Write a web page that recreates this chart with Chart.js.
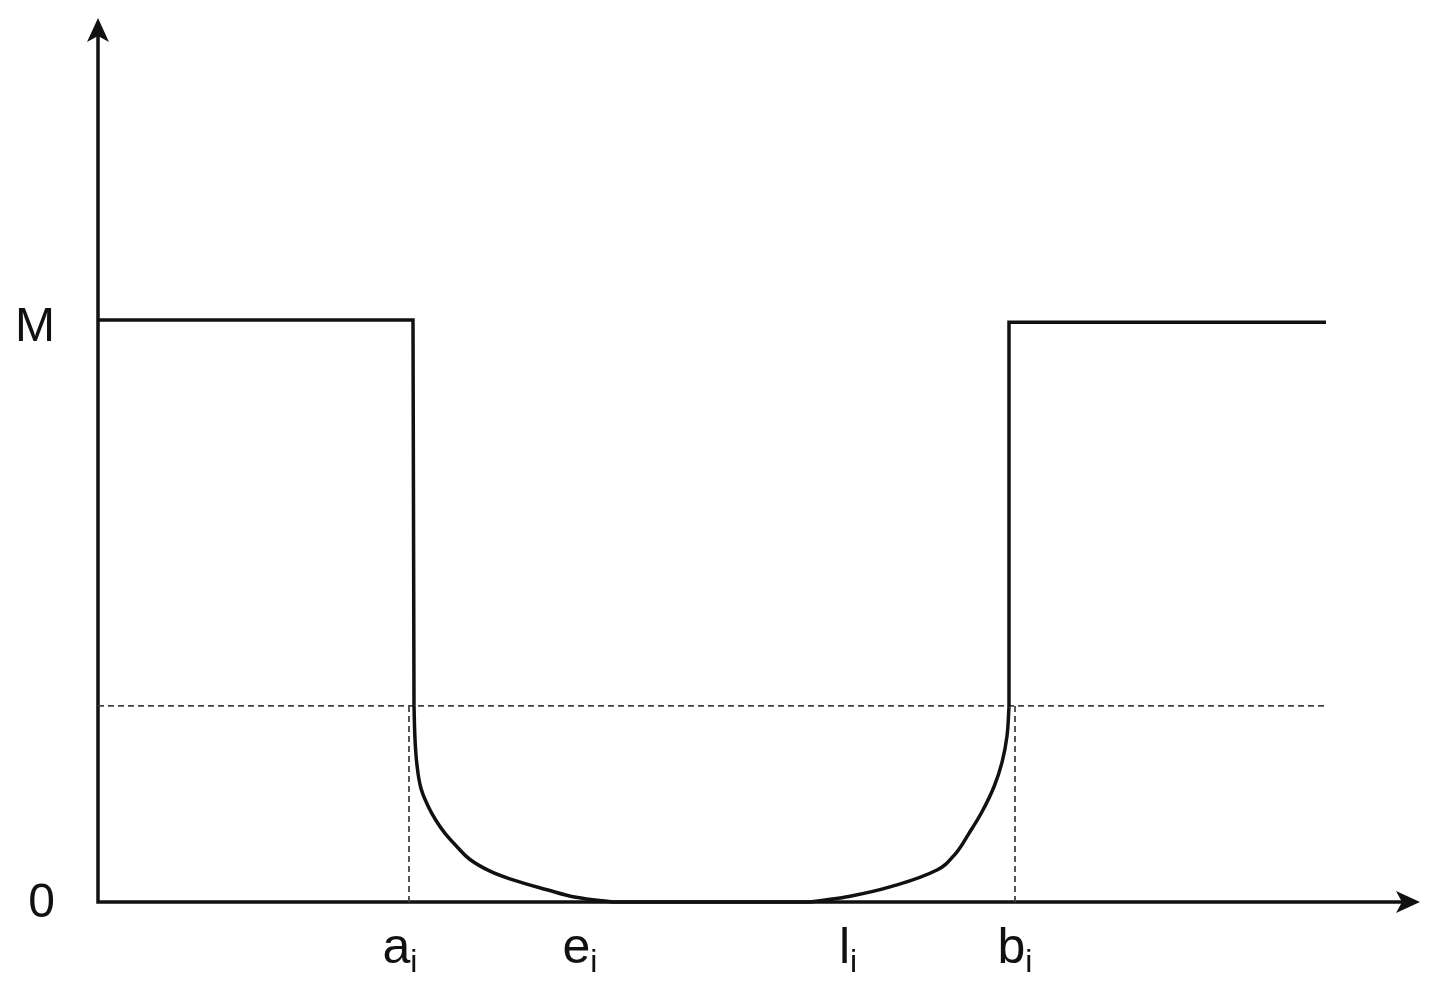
<!DOCTYPE html>
<html>
<head>
<meta charset="utf-8">
<script src="https://cdn.jsdelivr.net/npm/chart.js@4"></script>
<style>
  html, body { margin: 0; padding: 0; background: #fff; }
  canvas { display: block; }
</style>
</head>
<body>
<canvas id="c" width="1437" height="1003"></canvas>
<script>
// ---- data (x in abstract time units, y in units where M = 100) ----
const M_LEVEL = 100;
const THRESHOLD = 33.7;
const X_MAX = 1322;
const Y_MAX = 151.9;

const leftStep = [[0, 100], [315, 100], [316, 33.7]];
const leftCurve = [[316, 33.7], [317, 28.0], [319, 23.5], [323, 19.5], [330, 16.5], [338, 14.0], [347, 11.8],
                   [359, 9.5], [372, 7.3], [392, 5.3], [415, 3.8], [449, 2.1], [478, 0.8], [515, 0]];
const floorLine = [[515, 0], [712, 0]];
const rightCurve = [[712, 0], [749, 0.9], [792, 2.6], [839, 5.5], [857, 8.2], [871, 11.8],
                    [884, 15.5], [896, 19.8], [904, 24.0], [909, 28.5], [911, 33.5]];
const rightStep = [[911, 33.5], [911, 99.6], [1228, 99.6]];
const thresholdLine = [[0, THRESHOLD], [1228, THRESHOLD]];
const dropA = [[311, 0], [311, THRESHOLD]];
const dropB = [[917, 0], [917, THRESHOLD]];

const yTickValues = [100, 0];
const yTickLabels = ['M', '0'];
const xTickValues = [302, 482, 750, 917];
const xTickMain = ['a', 'e', 'l', 'b'];
const xTickSub = ['i', 'i', 'i', 'i'];

const toPts = arr => arr.map(([x, y]) => ({ x, y }));

const solid = (data, extra) => Object.assign({
  data: toPts(data), showLine: true, borderColor: '#111', borderWidth: 3.5,
  pointRadius: 0, tension: 0, clip: false, order: 1, borderJoinStyle: 'miter'
}, extra || {});
const dashed = data => ({
  data: toPts(data), showLine: true, borderColor: '#444', borderWidth: 1.8,
  borderDash: [6, 4], pointRadius: 0, tension: 0, clip: false, order: 3
});

const axesPlugin = {
  id: 'axesArrows',
  beforeDatasetsDraw(chart) {
    const { ctx, chartArea, scales } = chart;
    const x0 = scales.x.getPixelForValue(0);
    const y0 = scales.y.getPixelForValue(0);
    ctx.save();
    ctx.strokeStyle = '#111';
    ctx.fillStyle = '#111';
    ctx.lineWidth = 3.5;
    ctx.lineCap = 'square';
    ctx.beginPath();
    ctx.moveTo(x0, chartArea.top + 6);
    ctx.lineTo(x0, y0);
    ctx.lineTo(chartArea.right - 6, y0);
    ctx.stroke();
    // y arrow
    const ty = chartArea.top;
    ctx.beginPath();
    ctx.moveTo(x0, ty);
    ctx.lineTo(x0 + 11, ty + 24);
    ctx.lineTo(x0, ty + 18);
    ctx.lineTo(x0 - 11, ty + 24);
    ctx.closePath();
    ctx.fill();
    // x arrow
    const tx = chartArea.right;
    ctx.beginPath();
    ctx.moveTo(tx, y0);
    ctx.lineTo(tx - 24, y0 - 11);
    ctx.lineTo(tx - 18, y0);
    ctx.lineTo(tx - 24, y0 + 11);
    ctx.closePath();
    ctx.fill();
    ctx.restore();
  },
  afterDatasetsDraw(chart) {
    const { ctx, scales } = chart;
    const x0 = scales.x.getPixelForValue(0);
    const y0 = scales.y.getPixelForValue(0);
    ctx.save();
    ctx.fillStyle = '#111';
    ctx.font = '48px "Liberation Sans", Arial, sans-serif';
    ctx.textAlign = 'right';
    ctx.textBaseline = 'middle';
    yTickValues.forEach((v, i) => {
      const py = scales.y.getPixelForValue(v);
      ctx.fillText(yTickLabels[i], x0 - 43, py + (v === 0 ? 2 : 8));
    });
    const baseY = y0 + 61;
    xTickValues.forEach((v, i) => {
      const px = scales.x.getPixelForValue(v);
      ctx.font = '50px "Liberation Sans", Arial, sans-serif';
      const mw = ctx.measureText(xTickMain[i]).width;
      ctx.font = '32px "Liberation Sans", Arial, sans-serif';
      const sw = ctx.measureText(xTickSub[i]).width;
      const left = px - (mw + sw) / 2;
      ctx.textAlign = 'left';
      ctx.textBaseline = 'alphabetic';
      ctx.font = '50px "Liberation Sans", Arial, sans-serif';
      ctx.fillText(xTickMain[i], left, baseY);
      ctx.font = '32px "Liberation Sans", Arial, sans-serif';
      ctx.fillText(xTickSub[i], left + mw, baseY + 9);
    });
    ctx.restore();
  }
};

new Chart(document.getElementById('c'), {
  type: 'scatter',
  data: {
    datasets: [
      solid(leftStep),
      solid(leftCurve, { tension: 0.4, borderJoinStyle: 'round' }),
      solid(floorLine),
      solid(rightCurve, { tension: 0.4, borderJoinStyle: 'round' }),
      solid(rightStep),
      dashed(thresholdLine),
      dashed(dropA),
      dashed(dropB)
    ]
  },
  options: {
    responsive: false,
    animation: false,
    layout: { padding: { left: 98, right: 17, top: 18, bottom: 101 } },
    plugins: { legend: { display: false }, tooltip: { enabled: false } },
    scales: {
      x: { type: 'linear', min: 0, max: X_MAX, display: false },
      y: { type: 'linear', min: 0, max: Y_MAX, display: false }
    }
  },
  plugins: [axesPlugin]
});
</script>
</body>
</html>
